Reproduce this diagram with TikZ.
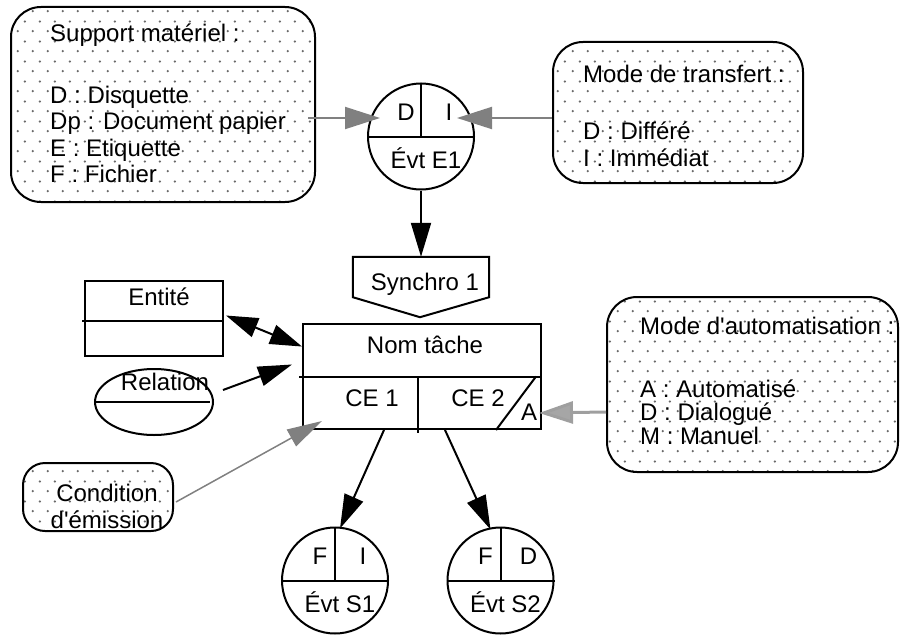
\documentclass[tikz,border=0pt]{standalone}
\usepackage{fontspec}
\setmainfont{Liberation Sans}[Ligatures=TeXOff]
\usetikzlibrary{arrows.meta, calc, shapes.geometric, patterns}
\definecolor{dotgray}{RGB}{105,105,105}
\definecolor{arrgray}{RGB}{128,128,128}
\pgfdeclarepatternformonly{notedots}{\pgfqpoint{0pt}{0pt}}{\pgfqpoint{15pt}{20pt}}{\pgfqpoint{15pt}{20pt}}{%
  \pgfpathcircle{\pgfqpoint{3pt}{3pt}}{1.3pt}%
  \pgfpathcircle{\pgfqpoint{10.5pt}{13pt}}{1.3pt}%
  \pgfusepath{fill}}

\begin{document}
\begin{tikzpicture}[x=1pt, y=-1pt,
  every node/.style={font=\fontsize{24}{25.5}\selectfont, inner sep=0pt},
  line/.style={line width=2pt},
  note/.style={draw, line width=2pt, rounded corners=30pt, pattern=notedots, pattern color=dotgray},
  evt/.style={circle, draw, line width=2pt, minimum size=106pt},
  blackarr/.style={line width=2pt, -{Triangle[length=34pt, width=20pt]}},
  grayarr/.style={line width=2pt, arrgray, -{Triangle[length=35pt, width=22pt]}},
  condarr/.style={line width=1.5pt, arrgray, -{Triangle[length=35pt, width=19pt]}},
  autoarr/.style={line width=3pt, gray!75, -{Triangle[length=34pt, width=22pt, fill=gray!70]}}
]
  \useasboundingbox (0,0) rectangle (901,634);

  % notes
  \node[note, minimum width=304pt, minimum height=195pt] (support) at (163,104.5) {};
  \node[anchor=north west, align=left, font=\fontsize{24}{26.5}\selectfont] (supporttxt) at (50,24)
    {Support matériel :\\[35pt]D : Disquette\\Dp : Document papier\\E : Etiquette\\F : Fichier};
  \node[note, minimum width=250pt, minimum height=141pt] (transfert) at (678,112.5) {};
  \node[anchor=north west, align=left, font=\fontsize{24}{27}\selectfont] (transferttxt) at (583,64.5)
    {Mode de transfert :\\[30pt]D : Différé\\I : Immédiat};
  \node[note, minimum width=291pt, minimum height=175pt] (automat) at (752.5,384.5) {};
  \node[anchor=north west, align=left, font=\fontsize{24}{23.5}\selectfont] (automattxt) at (640,316.5)
    {Mode d\textquotesingle automatisation :\\[39.5pt]A : Automatisé\\D : Dialogué\\M : Manuel};
  \node[note, rounded corners=22pt, minimum width=150pt, minimum height=68pt] (condition) at (98,497) {};
  \node[align=center, font=\fontsize{24}{27}\selectfont] (conditiontxt) at (107,506)
    {Condition\\d\textquotesingle émission};

  % events
  \foreach \n/\x/\y/\l/\r/\t in {e1/421/136.5/D/I/Évt E1, s1/335/580.5/F/I/Évt S1, s2/500.5/580.5/F/D/Évt S2} {
    \node[evt] (\n) at (\x,\y) {};
    \draw[line] (\n.west) -- (\n.east);
    \draw[line] (\n.north) -- (\n.center);
    \node (\n-l) at ($(\n.center)+(-15,-24)$) {\l};
    \node (\n-r) at ($(\n.center)+(28,-24)$) {\r};
    \node (\n-t) at ($(\n.center)+(5,22)$) {\t};
  }

  % synchro
  \node[minimum width=136pt, minimum height=40pt] (synchro) at (421,277) {};
  \draw[line, line join=miter] (synchro.south west) -- (synchro.north west) -- (synchro.north east)
    -- (synchro.south east) -- ($(synchro.south)+(-1,20)$) -- cycle;
  \node (synchrotxt) at (425,284) {Synchro 1};

  % task
  \node[draw, line width=2pt, minimum width=238pt, minimum height=105pt] (tache) at (422,376.5) {};
  \draw[line] ($(tache.west)+(-3,0)$) -- (tache.east);
  \draw[line] ($(tache.center)+(-4,0)$) -- ($(tache.south)+(-4,3)$);
  \draw[line] ($(tache.east)+(-6,0)$) -- ($(tache.south east)+(-46,0)$);
  \node (tachetxt) at (425,345) {Nom tâche};
  \node (ce1) at (372,398) {CE 1};
  \node (ce2) at (478,398) {CE 2};
  \node (auto) at (529,412) {A};

  % entity and relation
  \node[draw, line width=2pt, minimum width=138pt, minimum height=75pt] (entite) at (154,318.5) {};
  \draw[line] ($(entite.west)+(-2,2.5)$) -- ($(entite.east)+(0,2.5)$);
  \node (entitetxt) at (159,297) {Entité};
  \node[ellipse, draw, line width=2pt, minimum width=118pt, minimum height=66pt] (relation) at (154,402) {};
  \draw[line] (relation.west) -- ($(relation.east)+(-4,0)$);
  \node (relationtxt) at (165,382) {Relation};

  % connectors
  \draw[grayarr] ($(support.east)+(-8,13.5)$) -- ($(e1.center)+(-41,-18.5)$);
  \draw[grayarr] ($(transfert.west)+(0,5.5)$) -- ($(e1.center)+(36,-18.5)$);
  \draw[blackarr] (e1.south) -- (synchro.north);
  \draw[line, {Triangle[length=32pt, width=20pt]}-{Triangle[length=32pt, width=20pt]}]
    ($(entite.east)+(2,-3)$) -- ($(tache.north west)!0.22!(tache.south west)$);
  \draw[blackarr] ($(relation.east)+(9,-12)$) -- ($(tache.west)+(-10,-12)$);
  \draw[condarr] ($(condition.east)+(2,5)$) -- ($(tache.south west)+(20,-9)$);
  \draw[autoarr] ($(automat.west)+(0,27.5)$) -- ($(tache.south east)+(-3,-17)$);
  \draw[blackarr] ($(tache.south)+(-38,0)$) -- ($(s1.north)+(5,2)$);
  \draw[blackarr] ($(tache.south)+(23,0)$) -- ($(s2.north)+(-10,3)$);
\end{tikzpicture}
\end{document}
